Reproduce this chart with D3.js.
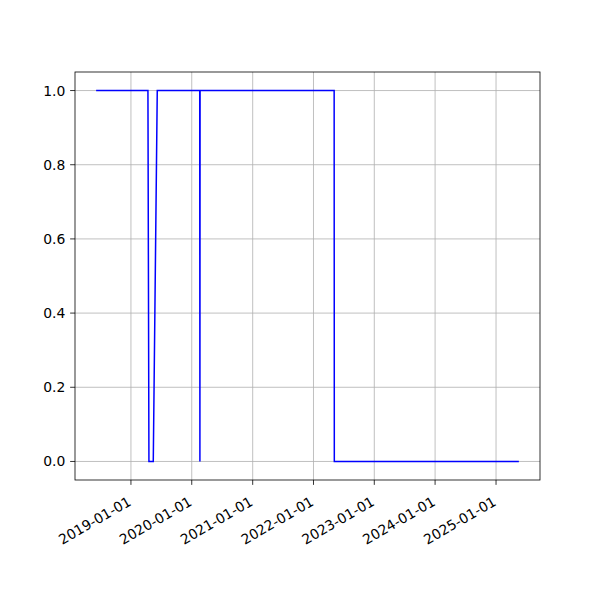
<!DOCTYPE html>
<html><head><meta charset="utf-8">
<script src="https://cdn.jsdelivr.net/npm/d3@7"></script>
<style>body{margin:0;background:#fff}</style>
</head><body>
<script>
const dates = ["2018-06-06","2019-04-13","2019-04-19","2019-05-15","2019-06-08","2020-02-18","2020-02-19","2020-02-20","2022-05-05","2022-05-06","2025-05-18"];
const values = [1,1,0,0,1,1,0,1,1,0,0];
const xTickLabels = ["2019-01-01","2020-01-01","2021-01-01","2022-01-01","2023-01-01","2024-01-01","2025-01-01"];
const yTicks = [0.0,0.2,0.4,0.6,0.8,1.0];

const parse = d3.utcParse("%Y-%m-%d");
const data = dates.map((d,i)=>({t:parse(d), v:values[i]}));
const W=600,H=600, L=75, R=540, T=72, B=480;
const svg = d3.select("body").append("svg").attr("width",W).attr("height",H)
  .style("font-family","DejaVu Sans").style("font-size","13.9px");

const ext = d3.extent(data,d=>d.t);
const span = ext[1]-ext[0];
const x = d3.scaleUtc().domain([new Date(+ext[0]-span*0.05), new Date(+ext[1]+span*0.05)]).range([L,R]);
const y = d3.scaleLinear().domain([-0.05,1.05]).range([B,T]);
const xt = xTickLabels.map(parse);

// grid
svg.append("g").selectAll("line").data(xt).join("line")
  .attr("x1",d=>x(d)).attr("x2",d=>x(d)).attr("y1",T).attr("y2",B)
  .attr("stroke","#b0b0b0").attr("stroke-width",0.8);
svg.append("g").selectAll("line").data(yTicks).join("line")
  .attr("x1",L).attr("x2",R).attr("y1",d=>y(d)).attr("y2",d=>y(d))
  .attr("stroke","#b0b0b0").attr("stroke-width",0.8);

// line
svg.append("path").datum(data)
  .attr("d", d3.line().x(d=>x(d.t)).y(d=>y(d.v)))
  .attr("fill","none").attr("stroke","#0000ff").attr("stroke-width",1.5);

// frame
svg.append("rect").attr("x",L).attr("y",T).attr("width",R-L).attr("height",B-T)
  .attr("fill","none").attr("stroke","#000").attr("stroke-width",0.8);

// x axis
const xa = svg.append("g");
xa.selectAll("line").data(xt).join("line")
  .attr("x1",d=>x(d)).attr("x2",d=>x(d)).attr("y1",B).attr("y2",B+4.86)
  .attr("stroke","#000").attr("stroke-width",0.8);
xa.selectAll("text").data(xt).join("text")
  .attr("transform",d=>`translate(${x(d)-4},${B+15.5}) rotate(-30)`)
  .attr("text-anchor","end").attr("dominant-baseline","hanging")
  .text((d,i)=>xTickLabels[i]);

// y axis
const ya = svg.append("g");
ya.selectAll("line").data(yTicks).join("line")
  .attr("x1",L-4.86).attr("x2",L).attr("y1",d=>y(d)).attr("y2",d=>y(d))
  .attr("stroke","#000").attr("stroke-width",0.8);
ya.selectAll("text").data(yTicks).join("text")
  .attr("x",L-9.7).attr("y",d=>y(d)).attr("text-anchor","end").attr("dominant-baseline","central")
  .text(d=>d3.format(".1f")(d));
</script>
</body></html>
